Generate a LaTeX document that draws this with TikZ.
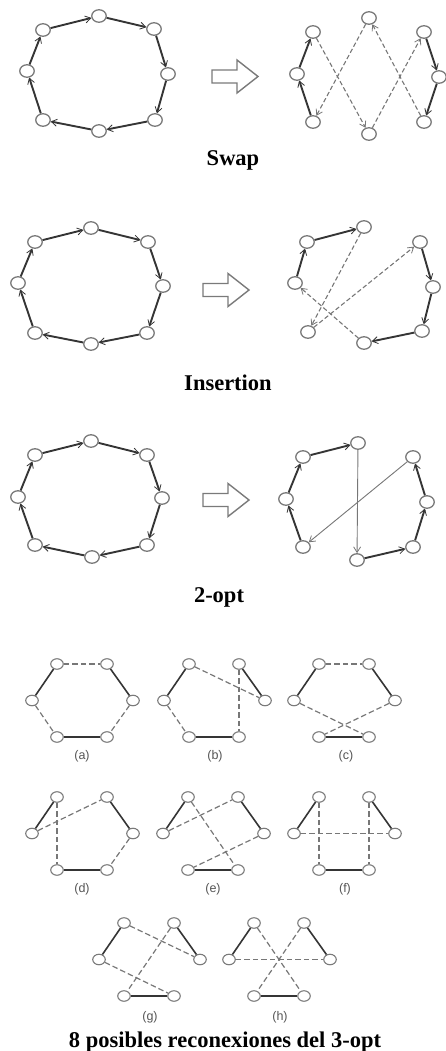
\documentclass[tikz,border=0pt]{standalone}
\usepackage{fontspec}
\setmainfont{Liberation Serif}
\setsansfont{Liberation Sans}
\usetikzlibrary{shapes.geometric,arrows.meta}

\definecolor{ring}{HTML}{7A7A7A}
\definecolor{tourline}{HTML}{353535}
\definecolor{newline}{HTML}{777777}
\definecolor{tagcolor}{HTML}{555555}

\tikzset{
  city/.style={ellipse, draw=ring, line width=1.3pt, fill=white,
    minimum width=14.5pt, minimum height=12.5pt, inner sep=0pt},
  smallcity/.style={ellipse, draw=ring, line width=1.1pt, fill=white,
    minimum width=12.5pt, minimum height=10.5pt, inner sep=0pt},
  arrowend/.style={-{Straight Barb[length=5.5pt,width=7pt,line width=0.8pt]}},
  tour/.style={arrowend, draw=tourline, line width=1.9pt},
  moved/.style={arrowend, draw=newline, line width=1.1pt, dash pattern=on 4.5pt off 2.5pt},
  crossarc/.style={arrowend, draw=newline, line width=0.9pt},
  kept/.style={draw=tourline, line width=1.6pt},
  relink/.style={draw=newline, line width=1.2pt, dash pattern=on 5.5pt off 3pt},
  caption/.style={font=\fontsize{22.5}{26}\selectfont\bfseries, anchor=base},
  tag/.style={font=\sffamily\fontsize{12.5}{14}\selectfont, text=tagcolor},
  pics/bigarrow/.style={code={
    \draw[draw=ring, line width=1.4pt, fill=white, line join=miter]
      (0,-6.5) -- (25,-6.5) -- (25,-16.5) -- (46,0) -- (25,16.5)
      -- (25,6.5) -- (0,6.5) -- cycle;}}
}

% six cities of a 3-opt panel plus the three kept tour edges
\newcommand\sixcities[3]{%
  \begin{scope}[shift={(#2,#3)}]
    \node[smallcity] (#1tl) at (25,0) {};
    \node[smallcity] (#1tr) at (75,0) {};
    \node[smallcity] (#1l)  at (0,36.5) {};
    \node[smallcity] (#1r)  at (101,36.5) {};
    \node[smallcity] (#1bl) at (25,73) {};
    \node[smallcity] (#1br) at (75,73) {};
    \draw[kept] (#1tl) -- (#1l);
    \draw[kept] (#1tr) -- (#1r);
    \draw[kept] (#1bl) -- (#1br);
  \end{scope}}

\begin{document}
\begin{tikzpicture}[x=1pt,y=-1pt]
\useasboundingbox (0,0) rectangle (445,1051);

% ---------------- Swap ----------------
\node[city] (s1tl) at (43,30) {};
\node[city] (s1t)  at (99,16) {};
\node[city] (s1tr) at (154,29) {};
\node[city] (s1r)  at (168,74) {};
\node[city] (s1br) at (155,120) {};
\node[city] (s1b)  at (99,131) {};
\node[city] (s1bl) at (43,120) {};
\node[city] (s1l)  at (27,71) {};
\draw[tour] (s1tl) -- (s1t);
\draw[tour] (s1t) -- (s1tr);
\draw[tour] (s1tr) -- (s1r);
\draw[tour] (s1r) -- (s1br);
\draw[tour] (s1br) -- (s1b);
\draw[tour] (s1b) -- (s1bl);
\draw[tour] (s1bl) -- (s1l);
\draw[tour] (s1l) -- (s1tl);

\pic at (212,76.5) {bigarrow};

\node[city] (s2tl) at (313,32) {};
\node[city] (s2t)  at (369,18) {};
\node[city] (s2tr) at (424,32) {};
\node[city] (s2r)  at (439,77) {};
\node[city] (s2br) at (424,122) {};
\node[city] (s2b)  at (369,134) {};
\node[city] (s2bl) at (313,122) {};
\node[city] (s2l)  at (297,74) {};
\draw[tour]  (s2bl) -- (s2l);
\draw[tour]  (s2l) -- (s2tl);
\draw[moved] (s2tl) -- (s2b);
\draw[moved] (s2b) -- (s2tr);
\draw[tour]  (s2tr) -- (s2r);
\draw[tour]  (s2r) -- (s2br);
\draw[moved] (s2br) -- (s2t);
\draw[moved] (s2t) -- (s2bl);

\node[caption] (capswap) at (233,166) {Swap};

% ---------------- Insertion ----------------
\node[city] (i1tl) at (35,242) {};
\node[city] (i1t)  at (91,228) {};
\node[city] (i1tr) at (148,242) {};
\node[city] (i1r)  at (163,286) {};
\node[city] (i1br) at (147,333) {};
\node[city] (i1b)  at (91,344) {};
\node[city] (i1bl) at (35,333) {};
\node[city] (i1l)  at (18,283) {};
\draw[tour] (i1tl) -- (i1t);
\draw[tour] (i1t) -- (i1tr);
\draw[tour] (i1tr) -- (i1r);
\draw[tour] (i1r) -- (i1br);
\draw[tour] (i1br) -- (i1b);
\draw[tour] (i1b) -- (i1bl);
\draw[tour] (i1bl) -- (i1l);
\draw[tour] (i1l) -- (i1tl);

\pic at (203,290) {bigarrow};

\node[city] (i2tl) at (307,242) {};
\node[city] (i2t)  at (364,227) {};
\node[city] (i2tr) at (420,242) {};
\node[city] (i2r)  at (433,287) {};
\node[city] (i2br) at (422,331) {};
\node[city] (i2b)  at (364,343) {};
\node[city] (i2bl) at (308,332) {};
\node[city] (i2l)  at (295,283) {};
\draw[tour]  (i2l) -- (i2tl);
\draw[tour]  (i2tl) -- (i2t);
\draw[moved] (i2t) -- (i2bl);
\draw[moved] (i2bl) -- (i2tr);
\draw[tour]  (i2tr) -- (i2r);
\draw[tour]  (i2r) -- (i2br);
\draw[tour]  (i2br) -- (i2b);
\draw[moved] (i2b) -- (i2l);

\node[caption] (capins) at (228,390) {Insertion};

% ---------------- 2-opt ----------------
\node[city] (o1tl) at (35,455) {};
\node[city] (o1t)  at (91,441) {};
\node[city] (o1tr) at (147,455) {};
\node[city] (o1r)  at (162,498) {};
\node[city] (o1br) at (147,545) {};
\node[city] (o1b)  at (92,557) {};
\node[city] (o1bl) at (35,545) {};
\node[city] (o1l)  at (18,497) {};
\draw[tour] (o1tl) -- (o1t);
\draw[tour] (o1t) -- (o1tr);
\draw[tour] (o1tr) -- (o1r);
\draw[tour] (o1r) -- (o1br);
\draw[tour] (o1br) -- (o1b);
\draw[tour] (o1b) -- (o1bl);
\draw[tour] (o1bl) -- (o1l);
\draw[tour] (o1l) -- (o1tl);

\pic at (203,500) {bigarrow};

\node[city] (o2tl) at (303,457) {};
\node[city] (o2t)  at (358,443) {};
\node[city] (o2tr) at (413,457) {};
\node[city] (o2r)  at (427,502) {};
\node[city] (o2br) at (413,547) {};
\node[city] (o2b)  at (357,560) {};
\node[city] (o2bl) at (303,547) {};
\node[city] (o2l)  at (286,499) {};
\draw[tour]     (o2bl) -- (o2l);
\draw[tour]     (o2l) -- (o2tl);
\draw[tour]     (o2tl) -- (o2t);
\draw[crossarc] (o2t) -- (o2b);
\draw[tour]     (o2b) -- (o2br);
\draw[tour]     (o2br) -- (o2r);
\draw[tour]     (o2r) -- (o2tr);
\draw[crossarc] (o2tr) -- (o2bl);

\node[caption] (cap2opt) at (219,602) {2-opt};

% ---------------- 3-opt reconnections ----------------
\sixcities{a}{32}{664}
\draw[relink] (atl) -- (atr);
\draw[relink] (al) -- (abl);
\draw[relink] (ar) -- (abr);
\node[tag] (taga) at (82,756) {(a)};

\sixcities{b}{164}{664}
\draw[relink] (btl) -- (br);
\draw[relink] (btr) -- (bbr);
\draw[relink] (bl) -- (bbl);
\node[tag] (tagb) at (215,756) {(b)};

\sixcities{c}{294}{664}
\draw[relink] (ctl) -- (ctr);
\draw[relink] (cl) -- (cbr);
\draw[relink] (cr) -- (cbl);
\node[tag] (tagc) at (346,756) {(c)};

\sixcities{d}{32}{797}
\draw[relink] (dl) -- (dtr);
\draw[relink] (dtl) -- (dbl);
\draw[relink] (dr) -- (dbr);
\node[tag] (tagd) at (82,889) {(d)};

\sixcities{e}{163}{797}
\draw[relink] (el) -- (etr);
\draw[relink] (etl) -- (ebr);
\draw[relink] (er) -- (ebl);
\node[tag] (tage) at (213,889) {(e)};

\sixcities{f}{294}{797}
\draw[relink] (ftl) -- (fbl);
\draw[relink] (ftr) -- (fbr);
\draw[relink] (fl) -- (fr);
\node[tag] (tagf) at (345,889) {(f)};

\sixcities{g}{99}{923}
\draw[relink] (gtl) -- (gr);
\draw[relink] (gtr) -- (gbl);
\draw[relink] (gl) -- (gbr);
\node[tag] (tagg) at (150,1017) {(g)};

\sixcities{h}{229}{923}
\draw[relink] (htl) -- (hbr);
\draw[relink] (htr) -- (hbl);
\draw[relink] (hl) -- (hr);
\node[tag] (tagh) at (280,1017) {(h)};

\node[caption] (cap3opt) at (225,1047) {8 posibles reconexiones del 3-opt};
\end{tikzpicture}
\end{document}
